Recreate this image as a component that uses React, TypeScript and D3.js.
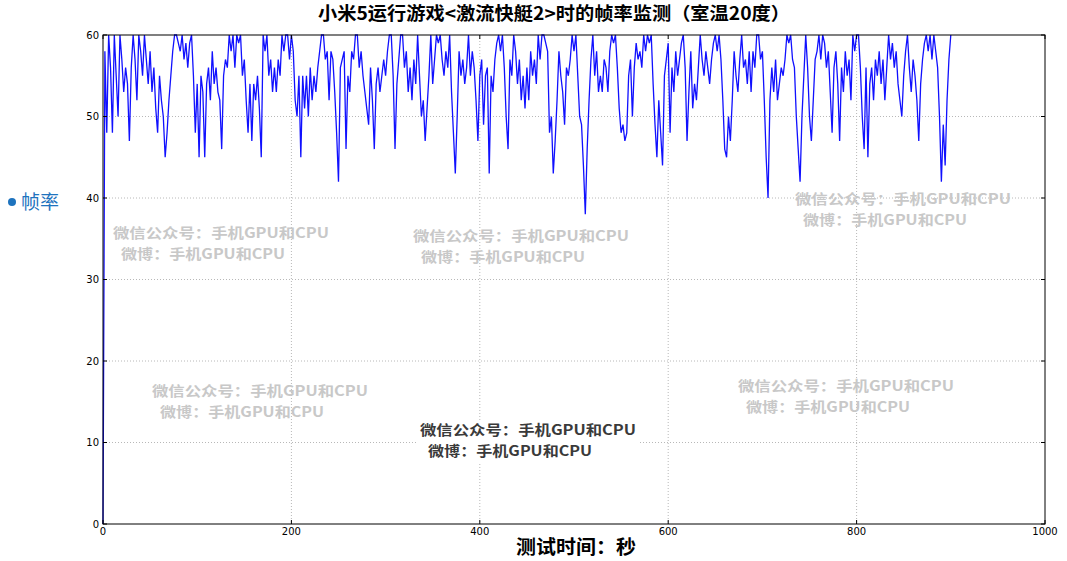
import React from "react";
import * as d3 from "d3";

const TITLE = "小米5运行游戏<激流快艇2>时的帧率监测（室温20度）";
const X_LABEL = "测试时间：秒";
const Y_LABEL = "帧率";
const X_TICKS = [0, 200, 400, 600, 800, 1000];
const Y_TICKS = [0, 10, 20, 30, 40, 50, 60];
const STEP = 2;
const FPS = [
  0, 58, 48, 60, 56, 48, 60, 55, 50, 60, 57, 53, 56, 54, 47, 56, 60, 57, 52, 60,
  58, 55, 60, 57, 54, 58, 53, 56, 51, 48, 55, 52, 50, 45, 48, 52, 55, 58, 60, 60,
  59, 58, 60, 57, 59, 56, 59, 60, 55, 48, 54, 45, 55, 53, 45, 54, 56, 52, 58, 54,
  56, 53, 52, 46, 55, 57, 56, 60, 58, 60, 56, 60, 59, 60, 55, 57, 52, 48, 54, 47,
  54, 52, 55, 51, 45, 60, 58, 60, 55, 57, 53, 56, 53, 57, 55, 60, 58, 60, 60, 57,
  60, 58, 52, 50, 55, 45, 55, 51, 55, 50, 56, 52, 55, 53, 56, 58, 60, 60, 57, 58,
  52, 58, 57, 53, 48, 42, 56, 57, 58, 46, 55, 53, 58, 57, 60, 60, 56, 58, 55, 53,
  51, 49, 56, 52, 46, 54, 56, 53, 55, 57, 55, 58, 60, 60, 55, 46, 54, 57, 60, 60,
  56, 58, 53, 56, 52, 57, 54, 60, 55, 50, 52, 47, 51, 55, 60, 54, 57, 60, 59, 60,
  57, 55, 58, 56, 60, 53, 48, 43, 50, 58, 55, 57, 54, 56, 60, 55, 58, 56, 52, 47,
  55, 57, 49, 55, 56, 43, 55, 53, 57, 59, 60, 58, 60, 56, 50, 46, 57, 55, 60, 58,
  54, 57, 52, 55, 51, 56, 52, 58, 55, 57, 54, 60, 57, 60, 60, 59, 58, 48, 50, 43,
  47, 52, 58, 55, 53, 49, 56, 55, 57, 60, 58, 60, 55, 50, 49, 44, 38, 46, 52, 57,
  60, 55, 58, 53, 55, 53, 57, 56, 53, 58, 60, 59, 60, 56, 51, 48, 49, 47, 48, 55,
  57, 50, 56, 59, 57, 58, 56, 60, 58, 60, 59, 60, 54, 49, 45, 52, 48, 44, 55, 57,
  59, 48, 56, 53, 58, 55, 57, 59, 60, 56, 47, 53, 58, 51, 54, 52, 56, 60, 57, 55,
  58, 56, 54, 57, 59, 60, 58, 60, 57, 52, 46, 45, 50, 47, 52, 58, 55, 53, 57, 60,
  56, 57, 54, 58, 53, 58, 56, 60, 60, 57, 58, 52, 45, 40, 52, 56, 53, 57, 52, 54,
  56, 55, 57, 60, 59, 60, 57, 56, 50, 46, 42, 50, 55, 60, 56, 50, 47, 52, 57, 58,
  60, 57, 60, 59, 56, 58, 53, 48, 56, 58, 54, 47, 56, 53, 58, 55, 57, 52, 60, 58,
  60, 60, 56, 50, 46, 56, 45, 54, 56, 52, 57, 55, 58, 54, 57, 52, 56, 60, 57, 59,
  56, 58, 54, 52, 50, 55, 58, 60, 56, 53, 57, 55, 52, 47, 54, 57, 59, 60, 58, 60,
  57, 60, 58, 56, 50, 42, 49, 44, 52, 57, 60,
];

const WM_LINE1 = "微信公众号：手机GPU和CPU";
const WM_LINE2 = "微博：手机GPU和CPU";
const WM_X = [113, 413, 795, 152, 738, 420];
const WM_Y = [233, 236, 199, 391, 386, 430];
const WM_DARK = [false, false, false, false, false, true];

const W = 1067;
const H = 561;
const M = { left: 103, right: 1045, top: 35, bottom: 524 };

export default function App() {
  const x = d3.scaleLinear().domain([0, 1000]).range([M.left, M.right]);
  const y = d3.scaleLinear().domain([0, 60]).range([M.bottom, M.top]);
  const data = FPS.map((v, i) => [i * STEP, v] as [number, number]);
  const line = d3
    .line<[number, number]>()
    .x((d) => x(d[0]))
    .y((d) => y(d[1]));
  const tickFont = "'DejaVu Sans', sans-serif";
  const cjk = "'Noto Sans CJK SC', sans-serif";
  return (
    <svg
      width={W}
      height={H}
      style={{ position: "absolute", left: 0, top: 0, background: "#fff" }}
    >
      <rect x={0} y={0} width={W} height={H} fill="#fff" />
      {/* grid */}
      {Y_TICKS.filter((t) => t > 0 && t < 60).map((t) => (
        <line
          key={"gy" + t}
          x1={M.left}
          x2={M.right}
          y1={y(t)}
          y2={y(t)}
          stroke="#b8b8b8"
          strokeDasharray="1,2"
          strokeWidth={1}
        />
      ))}
      {X_TICKS.filter((t) => t > 0 && t < 1000).map((t) => (
        <line
          key={"gx" + t}
          x1={x(t)}
          x2={x(t)}
          y1={M.top}
          y2={M.bottom}
          stroke="#b8b8b8"
          strokeDasharray="1,2"
          strokeWidth={1}
        />
      ))}
      {/* watermarks */}
      {WM_X.map((wx, i) => (
        <g key={"wm" + i}>
          {WM_DARK[i] && (
            <rect x={wx - 2} y={WM_Y[i] - 10} width={222} height={44} fill="#fff" />
          )}
          <text
            x={wx}
            y={WM_Y[i] + 5}
            fontFamily={cjk}
            fontSize={14}
            fontWeight={700}
            fill={WM_DARK[i] ? "#3a3a3a" : "#c8c8c8"}
            textLength={216}
            lengthAdjust="spacingAndGlyphs"
          >
            {WM_LINE1}
          </text>
          <text
            x={wx + 8}
            y={WM_Y[i] + 26}
            fontFamily={cjk}
            fontSize={14}
            fontWeight={700}
            fill={WM_DARK[i] ? "#3a3a3a" : "#c8c8c8"}
            textLength={164}
            lengthAdjust="spacingAndGlyphs"
          >
            {WM_LINE2}
          </text>
        </g>
      ))}
      {/* data line */}
      <path d={line(data) || ""} fill="none" stroke="#1010ff" strokeWidth={1.3} />
      {/* frame */}
      <rect
        x={M.left}
        y={M.top}
        width={M.right - M.left}
        height={M.bottom - M.top}
        fill="none"
        stroke="#000"
        strokeWidth={1}
      />
      {/* ticks */}
      {Y_TICKS.map((t) => (
        <g key={"ty" + t}>
          <line x1={M.left} x2={M.left + 4} y1={y(t)} y2={y(t)} stroke="#000" />
          <line x1={M.right} x2={M.right - 4} y1={y(t)} y2={y(t)} stroke="#000" />
          <text
            x={M.left - 4}
            y={y(t) + 3.5}
            textAnchor="end"
            fontFamily={tickFont}
            fontSize={10}
            fill="#000"
          >
            {t}
          </text>
        </g>
      ))}
      {X_TICKS.map((t) => (
        <g key={"tx" + t}>
          <line x1={x(t)} x2={x(t)} y1={M.bottom} y2={M.bottom - 4} stroke="#000" />
          <line x1={x(t)} x2={x(t)} y1={M.top} y2={M.top + 4} stroke="#000" />
          <text
            x={x(t)}
            y={M.bottom + 11}
            textAnchor="middle"
            fontFamily={tickFont}
            fontSize={10}
            fill="#000"
          >
            {t}
          </text>
        </g>
      ))}
      {/* title */}
      <text
        x={318}
        y={20}
        fontFamily={cjk}
        fontSize={18}
        fontWeight={700}
        fill="#000"
        textLength={472}
        lengthAdjust="spacingAndGlyphs"
      >
        {TITLE}
      </text>
      {/* x label */}
      <text
        x={516}
        y={554}
        fontFamily={cjk}
        fontSize={19}
        fontWeight={700}
        fill="#000"
        textLength={120}
        lengthAdjust="spacingAndGlyphs"
      >
        {X_LABEL}
      </text>
      {/* y legend label */}
      <circle cx={12} cy={202} r={4} fill="#1e73be" />
      <text x={21} y={209} fontFamily={cjk} fontSize={19} fill="#1e73be">
        {Y_LABEL}
      </text>
    </svg>
  );
}
